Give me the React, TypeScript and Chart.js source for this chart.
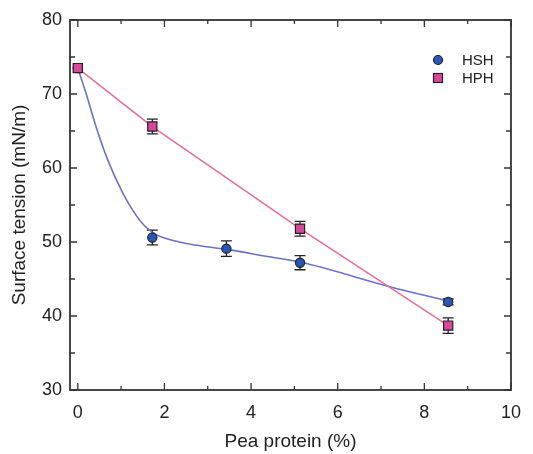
import React, { useEffect, useRef } from "react";
import { Chart, registerables } from "chart.js";

Chart.register(...registerables);

// Measured points
const hshX = [0, 1.72, 3.43, 5.13, 8.55];
const hshY = [73.5, 50.6, 49.1, 47.2, 41.9];
const hshErr = [0, 1.0, 1.05, 0.95, 0.4];

const hphX = [0, 1.72, 5.13, 8.55];
const hphY = [73.5, 65.6, 51.8, 38.7];
const hphErr = [0, 1.0, 1.0, 1.05];

// HSH fitted curve
const hshFitX = [0, 0.19, 0.42, 0.69, 1.04, 1.3, 1.54, 1.81, 2.2, 2.6, 3.43, 4.42, 5.13, 7.18, 8.55];
const hshFitY = [73.5, 70.1, 65.6, 61.1, 56.6, 54.0, 52.2, 51.0, 50.2, 49.7, 49.0, 48.0, 47.3, 44.0, 42.0];

const xTicks = [0, 2, 4, 6, 8, 10];
const yTicks = [30, 40, 50, 60, 70, 80];
const seriesNames = ["HSH", "HPH"];

const BLUE = "#2a56b8";
const PINK = "#d8479c";
const BLUE_LINE = "#6b72c4";
const PINK_LINE = "#e46f9e";
const FRAME = "#333333";
const TEXT = "#222222";
const FONT = "'Liberation Sans', Arial, sans-serif";

const toPts = (xs: number[], ys: number[]) => xs.map((x, i) => ({ x, y: ys[i] }));

const decorPlugin = {
  id: "decor",
  beforeDatasetsDraw(chart: any) {
    const ctx = chart.ctx;
    const xs = chart.scales.x;
    const ys = chart.scales.y;
    ctx.save();
    ctx.strokeStyle = "#222";
    ctx.lineWidth = 1.3;
    const drawErr = (xv: number[], yv: number[], ev: number[]) => {
      xv.forEach((x, i) => {
        if (!ev[i]) return;
        const px = xs.getPixelForValue(x);
        const pt = ys.getPixelForValue(yv[i] + ev[i]);
        const pb = ys.getPixelForValue(yv[i] - ev[i]);
        ctx.beginPath();
        ctx.moveTo(px, pt);
        ctx.lineTo(px, pb);
        ctx.moveTo(px - 5.5, pt);
        ctx.lineTo(px + 5.5, pt);
        ctx.moveTo(px - 5.5, pb);
        ctx.lineTo(px + 5.5, pb);
        ctx.stroke();
      });
    };
    drawErr(hshX, hshY, hshErr);
    drawErr(hphX, hphY, hphErr);
    ctx.restore();
  },
  afterDraw(chart: any) {
    const ctx = chart.ctx;
    const xs = chart.scales.x;
    const ys = chart.scales.y;
    const a = chart.chartArea;
    ctx.save();
    // frame
    ctx.strokeStyle = FRAME;
    ctx.lineWidth = 1.8;
    ctx.strokeRect(a.left, a.top, a.right - a.left, a.bottom - a.top);
    ctx.lineWidth = 1.3;
    ctx.beginPath();
    for (let v = 0; v <= 10; v += 1) {
      const px = xs.getPixelForValue(v);
      const len = v % 2 === 0 ? 7 : 4;
      ctx.moveTo(px, a.bottom);
      ctx.lineTo(px, a.bottom - len);
      ctx.moveTo(px, a.top);
      ctx.lineTo(px, a.top + len);
    }
    for (let v = 30; v <= 80; v += 5) {
      const py = ys.getPixelForValue(v);
      const len = v % 10 === 0 ? 7 : 5;
      ctx.moveTo(a.left, py);
      ctx.lineTo(a.left + len, py);
      ctx.moveTo(a.right, py);
      ctx.lineTo(a.right - len, py);
    }
    ctx.stroke();

    // axis titles
    ctx.fillStyle = TEXT;
    ctx.font = `19px ${FONT}`;
    ctx.textAlign = "center";
    ctx.textBaseline = "middle";
    ctx.fillText("Pea protein (%)", (a.left + a.right) / 2, 442);
    ctx.save();
    ctx.translate(20, (a.top + a.bottom) / 2);
    ctx.rotate(-Math.PI / 2);
    ctx.fillText("Surface tension (mN/m)", 0, 0);
    ctx.restore();

    // legend
    ctx.font = `15px ${FONT}`;
    ctx.textAlign = "left";
    ctx.lineWidth = 1.2;
    ctx.strokeStyle = "#222";
    ctx.fillStyle = BLUE;
    ctx.beginPath();
    ctx.arc(438, 60, 4.5, 0, Math.PI * 2);
    ctx.fill();
    ctx.stroke();
    ctx.fillStyle = PINK;
    ctx.fillRect(433.5, 73.5, 9, 9);
    ctx.strokeRect(433.5, 73.5, 9, 9);
    ctx.fillStyle = TEXT;
    ctx.fillText(seriesNames[0], 462, 61);
    ctx.fillText(seriesNames[1], 462, 79);
    ctx.restore();
  },
};

export default function App() {
  const ref = useRef<HTMLCanvasElement | null>(null);
  useEffect(() => {
    document.body.style.margin = "0";
    if (!ref.current) return;
    const chart = new Chart(ref.current, {
      type: "scatter",
      data: {
        datasets: [
          {
            label: seriesNames[1],
            data: toPts(hphX, hphY),
            pointStyle: "rect",
            pointRadius: 6.5,
            backgroundColor: PINK,
            borderColor: "#222",
            borderWidth: 1.2,
            showLine: false,
          },
          {
            label: seriesNames[0],
            data: toPts(hshX, hshY),
            pointStyle: "circle",
            pointRadius: 4.6,
            backgroundColor: BLUE,
            borderColor: "#222",
            borderWidth: 1.2,
            showLine: false,
          },
          {
            label: "HPH line",
            data: toPts(hphX, hphY),
            showLine: true,
            pointRadius: 0,
            borderColor: PINK_LINE,
            borderWidth: 1.6,
            tension: 0,
          },
          {
            label: "HSH fit",
            data: toPts(hshFitX, hshFitY),
            showLine: true,
            pointRadius: 0,
            borderColor: BLUE_LINE,
            borderWidth: 1.6,
            cubicInterpolationMode: "monotone",
          } as any,
        ],
      },
      options: {
        animation: false,
        responsive: false,
        layout: { padding: { left: 0, top: 20, right: 21, bottom: 0 } },
        plugins: { legend: { display: false }, tooltip: { enabled: false } },
        scales: {
          x: {
            type: "linear",
            min: -0.18,
            max: 10,
            afterBuildTicks: (s: any) => {
              s.ticks = xTicks.map((v) => ({ value: v }));
            },
            afterFit: (s: any) => {
              s.height = 64;
            },
            grid: { display: false, drawTicks: false },
            border: { display: false },
            ticks: {
              padding: 12,
              color: TEXT,
              font: { size: 18, family: FONT },
              maxRotation: 0,
              autoSkip: false,
            },
          },
          y: {
            type: "linear",
            min: 30,
            max: 80,
            afterBuildTicks: (s: any) => {
              s.ticks = yTicks.map((v) => ({ value: v }));
            },
            afterFit: (s: any) => {
              s.width = 70;
            },
            grid: { display: false, drawTicks: false },
            border: { display: false },
            ticks: {
              padding: 8,
              color: TEXT,
              font: { size: 18, family: FONT },
            },
          },
        },
      },
      plugins: [decorPlugin],
    });
    return () => chart.destroy();
  }, []);
  return <canvas ref={ref} width={533} height={454} style={{ display: "block" }} />;
}
